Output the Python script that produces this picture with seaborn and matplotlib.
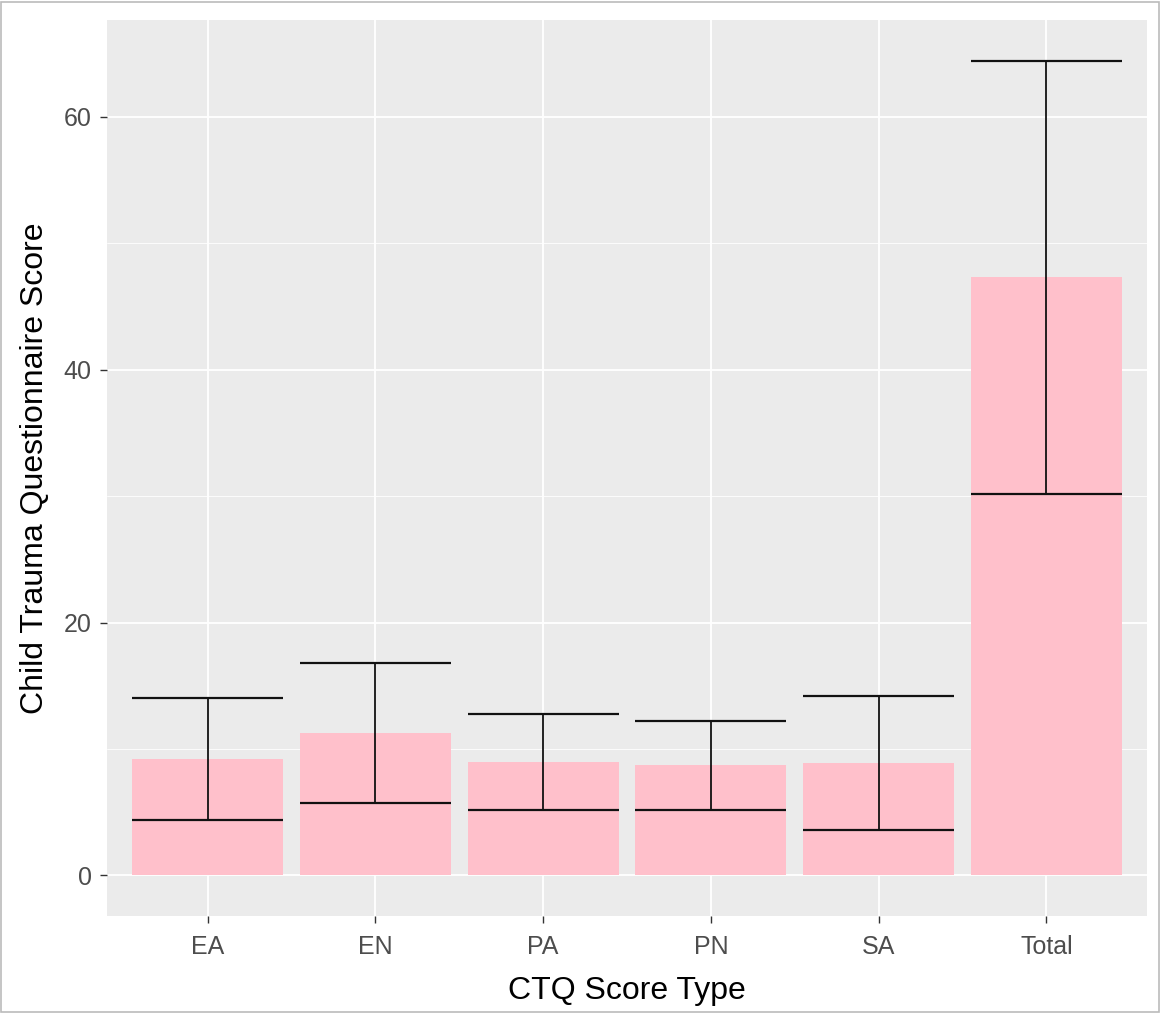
import matplotlib
matplotlib.use("Agg")
import matplotlib.pyplot as plt
import seaborn as sns
import pandas as pd
from matplotlib.patches import Rectangle

categories = ["EA", "EN", "PA", "PN", "SA", "Total"]
means = [9.2, 11.25, 9.0, 8.7, 8.85, 47.3]
sds = [4.85, 5.57, 3.8, 3.5, 5.3, 17.15]

df = pd.DataFrame({"type": categories, "score": means, "sd": sds})

sns.set_theme(style="darkgrid")
plt.rcParams["font.family"] = ["Liberation Sans", "DejaVu Sans"]

fig = plt.figure(figsize=(11.61, 10.13), dpi=100)
ax = fig.add_axes([107/1161, (1013-916)/1013, (1147-107)/1161, (916-20)/1013])
ax.set_facecolor("#EBEBEB")

sns.barplot(data=df, x="type", y="score", color="#FFC0CB", saturation=1,
            width=0.9, errorbar=None, ax=ax, zorder=2, linewidth=0, edgecolor="none")

xs = range(len(categories))
lo = [m - s for m, s in zip(means, sds)]
hi = [m + s for m, s in zip(means, sds)]
ax.vlines(list(xs), lo, hi, color="#111111", lw=1.3, zorder=3)
ax.hlines(lo, [x - 0.45 for x in xs], [x + 0.45 for x in xs], color="#111111", lw=1.6, zorder=3)
ax.hlines(hi, [x - 0.45 for x in xs], [x + 0.45 for x in xs], color="#111111", lw=1.6, zorder=3)

ax.set_xlim(-0.6, len(categories) - 0.4)
ymax = max(hi)
ax.set_ylim(-0.05 * ymax, ymax * 1.05)
ax.set_yticks([0, 20, 40, 60])
ax.set_yticks([10, 30, 50], minor=True)
ax.grid(which="major", color="white", lw=1.3)
ax.grid(which="minor", axis="y", color="white", lw=0.6)
ax.set_axisbelow(True)
for s in ax.spines.values():
    s.set_visible(False)
ax.tick_params(axis="both", which="major", length=5, width=1, color="#333333",
               labelsize=18, labelcolor="#4D4D4D", bottom=True, left=True)
ax.tick_params(axis="x", pad=9)
ax.tick_params(axis="y", pad=6)
ax.tick_params(which="minor", length=0)
ax.set_xlabel("CTQ Score Type", fontsize=23, color="black", labelpad=12)
ax.set_ylabel("Child Trauma Questionnaire Score", fontsize=23, color="black", labelpad=10)

fig.patches.append(Rectangle((0.001, 0.001), 0.997, 0.997, transform=fig.transFigure,
                             fill=False, edgecolor="#BBBBBB", lw=1.2))
fig.savefig("out.png", dpi=100, facecolor="white")
